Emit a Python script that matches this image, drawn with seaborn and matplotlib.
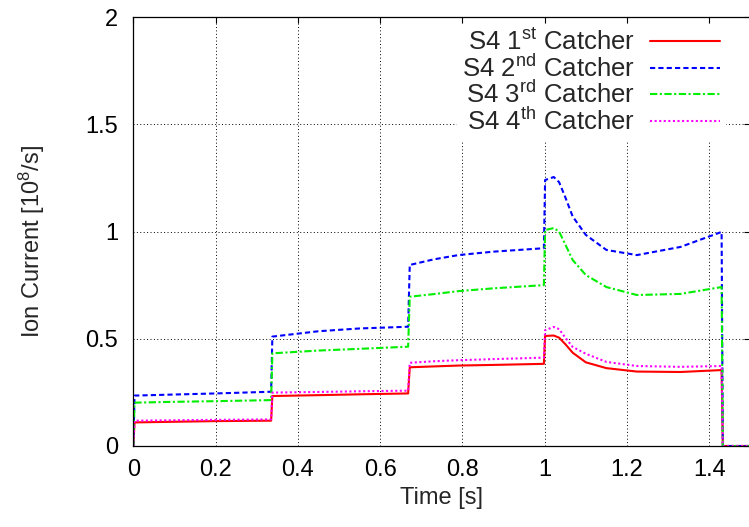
import matplotlib
matplotlib.use("Agg")
import matplotlib.pyplot as plt
import seaborn as sns
import pandas as pd

# ---- data ----
time = [0.0, 0.003, 0.10, 0.20, 0.335, 0.338, 0.45, 0.55, 0.668, 0.672, 0.73, 0.79,
        0.875, 0.998, 1.001, 1.022, 1.035, 1.05, 1.068, 1.10, 1.15, 1.224, 1.33, 1.43,
        1.433, 1.5]
catcher1 = [0.0, 0.110, 0.113, 0.116, 0.118, 0.233, 0.237, 0.241, 0.245, 0.367, 0.371, 0.375,
            0.378, 0.383, 0.513, 0.515, 0.505, 0.475, 0.435, 0.390, 0.363, 0.347, 0.345, 0.354,
            0.0, 0.0]
catcher2 = [0.0, 0.235, 0.240, 0.245, 0.253, 0.510, 0.535, 0.548, 0.556, 0.844, 0.870, 0.890,
            0.906, 0.922, 1.240, 1.254, 1.230, 1.160, 1.070, 0.984, 0.914, 0.890, 0.928, 0.998,
            0.0, 0.0]
catcher3 = [0.0, 0.202, 0.206, 0.209, 0.214, 0.432, 0.445, 0.453, 0.463, 0.696, 0.708, 0.722,
            0.735, 0.750, 1.007, 1.016, 1.000, 0.940, 0.867, 0.797, 0.741, 0.704, 0.709, 0.741,
            0.0, 0.0]
catcher4 = [0.0, 0.118, 0.120, 0.122, 0.124, 0.249, 0.252, 0.255, 0.258, 0.388, 0.395, 0.400,
            0.405, 0.412, 0.540, 0.555, 0.545, 0.505, 0.462, 0.430, 0.392, 0.373, 0.369, 0.373,
            0.0, 0.0]
labels = [r"S4 1$^{\rm st}$ Catcher", r"S4 2$^{\rm nd}$ Catcher",
          r"S4 3$^{\rm rd}$ Catcher", r"S4 4$^{\rm th}$ Catcher"]
x_ticks = [0, 0.2, 0.4, 0.6, 0.8, 1.0, 1.2, 1.4]
x_tick_labels = ["0", "0.2", "0.4", "0.6", "0.8", "1", "1.2", "1.4"]
y_ticks = [0, 0.5, 1.0, 1.5, 2.0]
y_tick_labels = ["0", "0.5", "1", "1.5", "2"]

sns.set_style("white")
plt.rcParams["font.family"] = ["Liberation Sans", "DejaVu Sans"]
plt.rcParams["mathtext.fontset"] = "custom"
plt.rcParams["mathtext.rm"] = "Liberation Sans"
plt.rcParams["mathtext.it"] = "Liberation Sans:italic"
plt.rcParams["mathtext.bf"] = "Liberation Sans:bold"

W, H = 749, 527
fig = plt.figure(figsize=(W / 100, H / 100), dpi=100)
left_px, right_px, top_px, bot_px = 133.3, 750.4, 17, 446
ax = fig.add_axes([left_px / W, 1 - bot_px / H, (right_px - left_px) / W, (bot_px - top_px) / H])

colors = ["#ff0000", "#0000ff", "#00ee00", "#ff00ff"]
styles = ["-", (0, (2.5, 1.5)), (0, (3.5, 1.2, 1.0, 1.2)), (0, (1.0, 1.2))]
series = [catcher1, catcher2, catcher3, catcher4]
for vals, lab, c, ls in zip(series, labels, colors, styles):
    df = pd.DataFrame({"t": time, "v": vals})
    sns.lineplot(data=df, x="t", y="v", ax=ax, color=c, label=lab, sort=False,
                 estimator=None, linestyle=ls, linewidth=1.5)

ax.set_xlim(0, 1.5)
ax.set_ylim(0, 2)
ax.set_xticks(x_ticks)
ax.set_xticklabels(x_tick_labels)
ax.set_yticks(y_ticks)
ax.set_yticklabels(y_tick_labels)
ax.tick_params(direction="in", length=4.5, width=0.8, top=True, right=True,
               labelsize=17, colors="black")
ax.tick_params(axis="y", pad=11)
ax.tick_params(axis="x", pad=9)
for s in ax.spines.values():
    s.set_color("black")
    s.set_linewidth(0.9)
ax.grid(True, color="black", linestyle=(0, (1, 2.5)), linewidth=0.7)
ax.set_axisbelow(True)

ax.set_xlabel("Time [s]", fontsize=17, labelpad=5)
ax.set_ylabel(r"Ion Current [10$^{8}$/s]", fontsize=17)
ax.yaxis.set_label_coords((47 - left_px) / (right_px - left_px), (bot_px - 242) / (bot_px - top_px))

leg = ax.legend(loc="upper right", bbox_to_anchor=(725 / W, 1 - 24 / H),
                bbox_transform=fig.transFigure, markerfirst=False, frameon=True,
                fontsize=18.5, handlelength=2.7, handletextpad=0.6, labelspacing=-0.02,
                borderpad=0.2, borderaxespad=0)
leg.get_frame().set_edgecolor("white")
leg.get_frame().set_facecolor("white")
leg.get_frame().set_alpha(1.0)
leg.get_frame().set_boxstyle("square", pad=0.0)

fig.savefig("out.png", dpi=100)
